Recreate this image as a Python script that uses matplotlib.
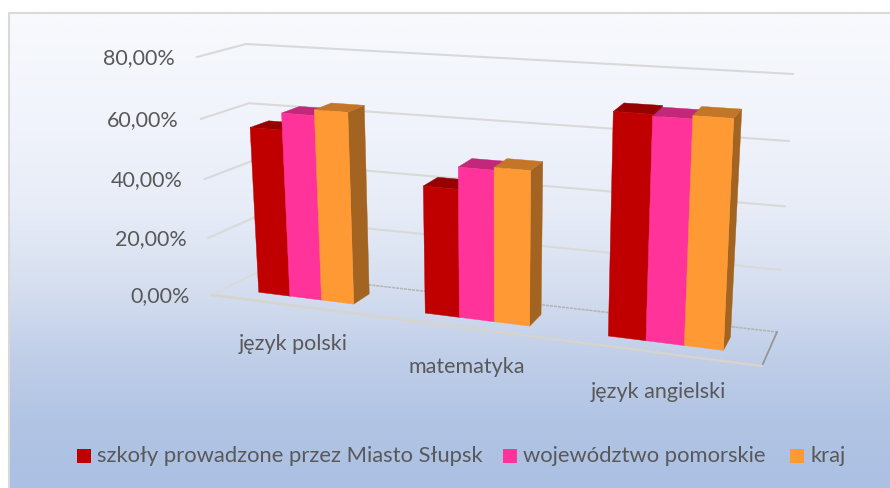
import numpy as np
import matplotlib
matplotlib.use("Agg")
import matplotlib.pyplot as plt
from matplotlib.patches import Polygon, Rectangle

plt.rcParams["font.family"] = ["Lato", "DejaVu Sans"]

categories = ["język polski", "matematyka", "język angielski"]
series_names = ["szkoły prowadzone przez Miasto Słupsk", "województwo pomorskie", "kraj"]
szkoly = [56.5, 42.3, 70.4]
wojewodztwo = [62.1, 49.4, 69.9]
kraj = [64.0, 50.3, 70.9]
tick_values = [0, 20, 40, 60, 80]
tick_labels = ["0,00%", "20,00%", "40,00%", "60,00%", "80,00%"]

front_colors = ["#C00000", "#FF3399", "#FF9933"]
top_colors = ["#960000", "#C2277A", "#C47628"]
side_colors = ["#860000", "#A82068", "#A36321"]
TEXT = "#595959"
GRID = "#D9D9D9"

# corners of the 3d box on screen: (front/back, floor/top) at left and right
FL0, FL1 = np.array([212.0, 295.0]), np.array([197.0, 57.0])
BL0, BL1 = np.array([258.0, 272.0]), np.array([246.0, 44.0])
FR0, FR1 = np.array([762.0, 366.0]), np.array([775.0, 97.0])
BR0, BR1 = np.array([777.0, 332.0]), np.array([793.0, 74.0])
PERSP_X = 1.155
PERSP_Z = 1.053
ZMAX = 80.0


def project(t, d, z):
    """t: 0-1 along categories, d: 0 front - 1 back, z: value"""
    u = t / (t + PERSP_X * (1 - t))
    r = z / ZMAX
    h = r / (r + PERSP_Z * (1 - r))
    fl = FL0 + (FL1 - FL0) * h
    bl = BL0 + (BL1 - BL0) * h
    fr = FR0 + (FR1 - FR0) * h
    br = BR0 + (BR1 - BR0) * h
    front = fl + (fr - fl) * u
    back = bl + (br - bl) * u
    return front + (back - front) * d


fig = plt.figure(figsize=(8.9, 4.88), dpi=100)
ax = fig.add_axes([0, 0, 1, 1])
ax.set_xlim(0, 890)
ax.set_ylim(488, 0)
ax.axis("off")

# background gradient
ys = np.arange(488)
stops_y = [13, 120, 200, 280, 350, 420, 488]
stops_c = np.array([[247, 249, 253], [240, 243, 251], [231, 236, 247], [214, 223, 240],
                    [193, 207, 233], [177, 196, 228], [171, 192, 227]]) / 255
grad = np.stack([np.interp(ys, stops_y, stops_c[:, i]) for i in range(3)], axis=1)[:, None, :]
ax.imshow(grad, extent=[9, 890, 488, 13], aspect="auto", zorder=0)
ax.set_xlim(0, 890)
ax.set_ylim(488, 0)
ax.plot([9, 9, 890], [488, 13, 13], color="#D9D9D9", lw=1.5, zorder=1)

# gridlines and floor
for z, lab in zip(tick_values, tick_labels):
    a, b, c = project(0, 0, z), project(0, 1, z), project(1, 1, z)
    if z > 0:
        ax.plot([a[0], b[0], c[0]], [a[1], b[1], c[1]], color=GRID, lw=1.5, zorder=2)
    ax.text(a[0] - 22, a[1] + 1, lab, ha="right", va="center", fontsize=15.5, color=TEXT)

c0, c1, c2, c3 = project(0, 0, 0), project(0, 1, 0), project(1, 1, 0), project(1, 0, 0)
ax.plot([c0[0], c1[0]], [c0[1], c1[1]], color="#DADADA", lw=1.2, zorder=2)
ax.plot([c1[0], c2[0]], [c1[1], c2[1]], color="#B4B4B0", lw=1.1, ls=(0, (2, 0.6)), zorder=2)
ax.plot([c2[0], c3[0]], [c2[1], c3[1]], color="#969696", lw=1.3, zorder=2)
ax.plot([c0[0], c3[0]], [c0[1], c3[1]], color="#D6D4CC", lw=1.8, zorder=2)

# bars
group_width = 0.194
bar_width = group_width / 3
d0, d1 = 0.3, 0.7
values = [szkoly, wojewodztwo, kraj]
for i in range(len(categories)):
    center = (i + 0.5) / len(categories)
    for s in range(len(values)):
        v = values[s][i]
        t0 = center - group_width / 2 + s * bar_width
        t1 = t0 + bar_width
        zo = 3 + i + s * 0.1
        side = [project(t1, d0, 0), project(t1, d1, 0), project(t1, d1, v), project(t1, d0, v)]
        top = [project(t0, d0, v), project(t1, d0, v), project(t1, d1, v), project(t0, d1, v)]
        front = [project(t0, d0, 0), project(t1, d0, 0), project(t1, d0, v), project(t0, d0, v)]
        ax.add_patch(Polygon(side, closed=True, fc=side_colors[s], ec=side_colors[s], lw=0.3, zorder=zo))
        ax.add_patch(Polygon(top, closed=True, fc=top_colors[s], ec=top_colors[s], lw=0.3, zorder=zo))
        ax.add_patch(Polygon(front, closed=True, fc=front_colors[s], ec=front_colors[s], lw=0.3, zorder=zo))
    p = project(center, 0, 0)
    ax.text(p[0], p[1] + 39, categories[i], ha="center", va="center", fontsize=15.5, color=TEXT)

# legend
legend_x = [77, 503, 790]
for x, name, col in zip(legend_x, series_names, front_colors):
    ax.add_patch(Rectangle((x, 449), 14, 14, fc=col, ec="none", zorder=3))
    ax.text(x + 20, 456, name, ha="left", va="center", fontsize=15.8, color=TEXT)

fig.savefig("out.png", dpi=100)
